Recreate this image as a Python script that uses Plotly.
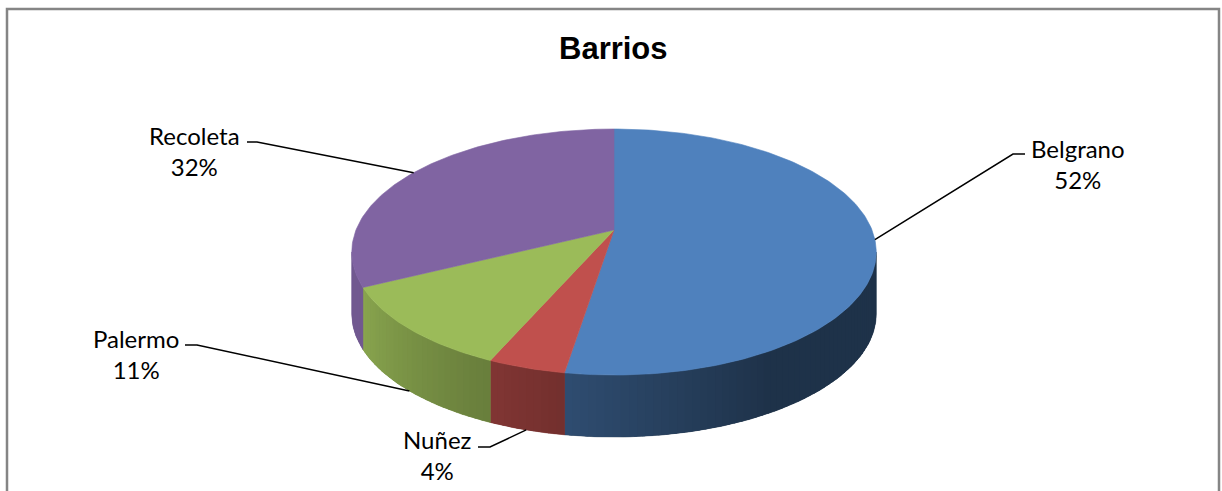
import math
import numpy as np
import plotly.graph_objects as go

# Data
barrios = ["Belgrano", "Nuñez", "Palermo", "Recoleta"]
porcentajes = [52, 4, 11, 32]

# Styles
colores = ["#4F81BD", "#C0504D", "#9BBB59", "#8064A2"]
label_pos = [(1078, 164), (437, 455), (136, 354), (194, 151)]      # text block centre
leader_start = [(1025, 154), (478, 447), (185, 345), (247, 142)]   # end of label tick
leader_elbow = [(1013, 154), (490, 447), (197, 345), (257, 142)]

W, H = 1222, 491
# Pie geometry (pixel space, y downward) with a simple perspective projection
CX, CY = 614, 230      # projected pie centre
A, B = 258, 77.9       # horizontal / depth radii
K = 0.179              # perspective strength
DEPTH = 62             # thickness of the pie


def proj(theta_deg, drop=0.0):
    t = math.radians(theta_deg)
    u, v = math.sin(t), math.cos(t)
    w = 1 + K * v
    return CX + A * u / w, (CY - B * v) / w + drop


def hex_rgb(h):
    h = h.lstrip("#")
    return tuple(int(h[i:i + 2], 16) for i in (0, 2, 4))


def shade(hexcol, f):
    r, g, b = hex_rgb(hexcol)
    return f"rgb({int(r * f)},{int(g * f)},{int(b * f)})"


def wall_factor(theta):
    # lighter on the left-facing side, darker towards the right
    return 0.39 + 0.5 * min(max((theta - 150) / 94, 0), 1)


def wall_pts(e0, e1, steps=4):
    ts = np.linspace(e0, e1, steps)
    top = [proj(t) for t in ts]
    bot = [proj(t, DEPTH) for t in ts[::-1]]
    pts = top + bot + [top[0]]
    return [p[0] for p in pts], [p[1] for p in pts]


# silhouette: the side wall is visible where cos(theta) < -K
theta_vis_lo = math.degrees(math.acos(-K))
theta_vis_hi = 360 - theta_vis_lo

total = sum(porcentajes)
bounds = np.concatenate([[0], np.cumsum(porcentajes)]) / total * 360

fig = go.Figure()

# Side walls (drawn first): a base fill per slice, then a smooth shading band
for i, col in enumerate(colores):
    t0, t1 = bounds[i], bounds[i + 1]
    a0, a1 = max(t0, theta_vis_lo), min(t1, theta_vis_hi)
    if a1 <= a0:
        continue
    bx, by = wall_pts(a0, a1, max(4, int(a1 - a0) + 2))
    base = shade(col, wall_factor(0.5 * (a0 + a1)))
    fig.add_trace(go.Scatter(
        x=bx, y=by, mode="lines", fill="toself", fillcolor=base,
        line=dict(color=base, width=0.5), hoverinfo="skip", showlegend=False))
    n = max(2, int(math.ceil((a1 - a0) / 1.5)))
    edges = np.linspace(a0, a1, n + 1)
    for s in range(n):
        e0, e1 = edges[s], min(edges[s + 1] + 0.6, a1)
        c = shade(col, wall_factor(0.5 * (edges[s] + edges[s + 1])))
        qx, qy = wall_pts(e0, e1)
        fig.add_trace(go.Scatter(
            x=qx, y=qy, mode="lines", fill="toself", fillcolor=c,
            line=dict(width=0), hoverinfo="skip", showlegend=False))

# Top faces
for i, col in enumerate(colores):
    t0, t1 = bounds[i], bounds[i + 1]
    ts = np.linspace(t0, t1, max(3, int((t1 - t0) / 1.0) + 2))
    rim = [proj(t) for t in ts]
    pts = [(CX, CY)] + rim + [(CX, CY)]
    fig.add_trace(go.Scatter(
        x=[p[0] for p in pts], y=[p[1] for p in pts],
        mode="lines", fill="toself", fillcolor=col,
        line=dict(color=col, width=0.6), name=barrios[i],
        hoverinfo="name", showlegend=False))

# Leader lines and labels
for i, name in enumerate(barrios):
    mid = 0.5 * (bounds[i] + bounds[i + 1])
    t = math.radians(mid)
    on_wall = math.cos(t) < -K
    ex, ey = proj(mid, DEPTH if on_wall else 0)
    sx, sy = leader_start[i]
    bx, by = leader_elbow[i]
    fig.add_trace(go.Scatter(
        x=[sx, bx, ex], y=[sy, by, ey], mode="lines",
        line=dict(color="black", width=1.5),
        hoverinfo="skip", showlegend=False))
    lx, ly = label_pos[i]
    fig.add_annotation(
        x=lx, y=ly, xref="x", yref="y", showarrow=False,
        text=f"{name}<br>{porcentajes[i]}%", align="center",
        font=dict(family="Lato, 'Open Sans', sans-serif", size=24, color="black"))

# Title
fig.add_annotation(
    x=613, y=48, xref="x", yref="y", showarrow=False, text="<b>Barrios</b>",
    font=dict(family="'Liberation Sans', Arial, sans-serif", size=31, color="black"))

# Chart border
fig.add_shape(type="rect", x0=7, y0=9, x1=1219, y1=H + 10, xref="x", yref="y",
              line=dict(color="#858585", width=2.5), fillcolor="rgba(0,0,0,0)", layer="below")

fig.update_layout(
    width=W, height=H,
    margin=dict(l=0, r=0, t=0, b=0),
    paper_bgcolor="white", plot_bgcolor="white",
    xaxis=dict(range=[0, W], visible=False, fixedrange=True),
    yaxis=dict(range=[H, 0], visible=False, fixedrange=True),
)

fig.write_html("out.html")
